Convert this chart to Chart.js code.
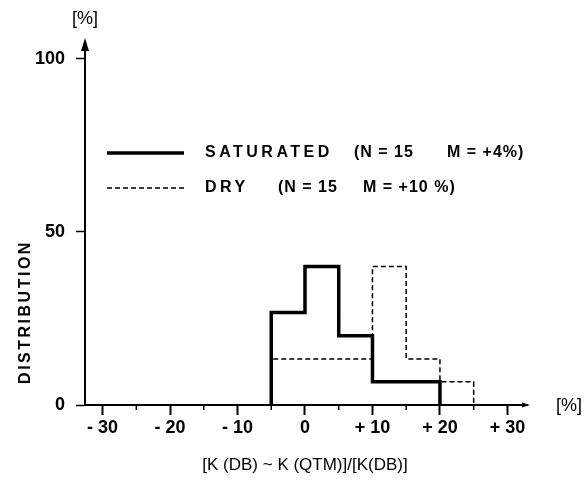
<!DOCTYPE html>
<html>
<head>
<meta charset="utf-8">
<script src="https://cdn.jsdelivr.net/npm/chart.js@4"></script>
<style>
html,body{margin:0;padding:0;background:#fff;}
#wrap{width:584px;height:485px;}
</style>
</head>
<body>
<div id="wrap"><canvas id="c" width="584" height="485"></canvas></div>
<script>
// ---- data ----
const binEdges = [-5, 0, 5, 10, 15, 20, 25];
const saturatedPct = [26.7, 40, 20, 6.7, 6.7];
const dryPct = [13.3, 13.3, 13.3, 40, 13.3, 6.7];
const seriesNames = ['SATURATED', 'DRY'];
const seriesN = ['15', '15'];
const seriesM = ['+4%', '+10 %'];
const xTickValues = [-30, -20, -10, 0, 10, 20, 30];
const xTickLabels = ['- 30', '- 20', '- 10', '0', '+ 10', '+ 20', '+ 30'];
const xMinorTicks = [-25, -15, -5, 5, 15, 25];
const yTickValues = [0, 50, 100];
const yTickLabels = ['0', '50', '100'];
const xTitle = '[K (DB) ~ K (QTM)]/[K(DB)]';
const yTitle = 'DISTRIBUTION';
const unitLabel = '[%]';

function stepPoints(values) {
  const pts = [{x: binEdges[0], y: 0}];
  values.forEach((v, i) => pts.push({x: binEdges[i], y: v}));
  pts.push({x: binEdges[values.length], y: 0});
  return pts;
}

const FONT = '"Liberation Sans", Arial, sans-serif';

const deco = {
  id: 'deco',
  beforeDraw(chart) {
    const ctx = chart.ctx;
    ctx.save();
    ctx.fillStyle = '#fff';
    ctx.fillRect(0, 0, chart.width, chart.height);
    ctx.restore();
  },
  afterDraw(chart) {
    const ctx = chart.ctx;
    const xs = chart.scales.x;
    const ca = chart.chartArea;
    ctx.save();
    ctx.fillStyle = '#000';
    ctx.strokeStyle = '#000';
    // minor ticks
    ctx.lineWidth = 1.5;
    xMinorTicks.forEach(v => {
      const px = xs.getPixelForValue(v);
      ctx.beginPath();
      ctx.moveTo(px, ca.bottom);
      ctx.lineTo(px, ca.bottom + 5);
      ctx.stroke();
    });
    // y arrow
    const yx = ca.left;
    ctx.beginPath();
    ctx.moveTo(yx, ca.top - 7);
    ctx.lineTo(yx - 4, ca.top + 6);
    ctx.lineTo(yx + 4, ca.top + 6);
    ctx.closePath();
    ctx.fill();
    // x arrow
    ctx.beginPath();
    ctx.moveTo(ca.right + 3, ca.bottom);
    ctx.lineTo(ca.right - 5, ca.bottom - 2.5);
    ctx.lineTo(ca.right - 5, ca.bottom + 2.5);
    ctx.closePath();
    ctx.fill();
    // units
    ctx.font = '18px ' + FONT;
    ctx.textAlign = 'center';
    ctx.textBaseline = 'middle';
    ctx.fillText(unitLabel, yx, 19);
    ctx.fillText(unitLabel, 569, ca.bottom + 1);
    // x title
    ctx.font = '17px ' + FONT;
    ctx.fillText(xTitle, xs.getPixelForValue(0), 465);
    // y title
    ctx.save();
    ctx.translate(26, 312);
    ctx.rotate(-Math.PI / 2);
    ctx.font = 'bold 16px ' + FONT;
    ctx.letterSpacing = '2.5px';
    ctx.fillText(yTitle, 0, 0);
    ctx.restore();
    // legend
    const rows = [153, 188];
    const nameX = [205, 205];
    const nX = [354, 278];
    const mX = [447, 363];
    chart.data.datasets.forEach((ds, i) => {
      const y = rows[i];
      ctx.save();
      ctx.lineWidth = ds.borderWidth;
      ctx.setLineDash(ds.borderDash || []);
      ctx.beginPath();
      ctx.moveTo(107, y);
      ctx.lineTo(184, y);
      ctx.stroke();
      ctx.restore();
      ctx.save();
      ctx.font = 'bold 16px ' + FONT;
      ctx.textAlign = 'left';
      ctx.textBaseline = 'middle';
      ctx.letterSpacing = '3.5px';
      ctx.fillText(seriesNames[i], nameX[i], y);
      ctx.letterSpacing = '1px';
      ctx.fillText('(N = ' + seriesN[i], nX[i], y);
      ctx.fillText('M = ' + seriesM[i] + ')', mX[i], y);
      ctx.restore();
    });
    ctx.restore();
  }
};

new Chart(document.getElementById('c'), {
  type: 'line',
  data: {
    datasets: [
      {
        label: seriesNames[0],
        data: stepPoints(saturatedPct),
        stepped: 'before',
        borderColor: '#000',
        borderWidth: 3.5,
        pointRadius: 0,
        fill: false,
        order: 0
      },
      {
        label: seriesNames[1],
        data: stepPoints(dryPct),
        stepped: 'before',
        borderColor: '#000',
        borderWidth: 1.5,
        borderDash: [5, 3],
        pointRadius: 0,
        fill: false,
        order: 1
      }
    ]
  },
  options: {
    responsive: false,
    animation: false,
    layout: {padding: {left: 0, right: 57, top: 45, bottom: 0}},
    plugins: {legend: {display: false}, tooltip: {enabled: false}},
    scales: {
      x: {
        type: 'linear',
        min: -32.6,
        max: 32.9,
        afterBuildTicks: s => { s.ticks = xTickValues.map(v => ({value: v})); },
        afterFit: s => { s.height = 80; },
        ticks: {
          callback: (v) => xTickLabels[xTickValues.indexOf(v)],
          color: '#000',
          font: {family: FONT, size: 18, weight: 'bold'},
          padding: 2,
          maxRotation: 0,
          autoSkip: false
        },
        grid: {drawOnChartArea: false, tickLength: 10, tickWidth: 2, color: '#000'},
        border: {display: true, width: 2, color: '#000'}
      },
      y: {
        type: 'linear',
        min: 0,
        max: 104,
        afterBuildTicks: s => { s.ticks = yTickValues.map(v => ({value: v})); },
        afterFit: s => { s.width = 85; },
        ticks: {
          callback: (v) => yTickLabels[yTickValues.indexOf(v)],
          color: '#000',
          font: {family: FONT, size: 18, weight: 'bold'},
          padding: 11,
          autoSkip: false
        },
        grid: {drawOnChartArea: false, tickLength: 9, tickWidth: 1.5, color: '#000'},
        border: {display: true, width: 2, color: '#000'}
      }
    }
  },
  plugins: [deco]
});
</script>
</body>
</html>
